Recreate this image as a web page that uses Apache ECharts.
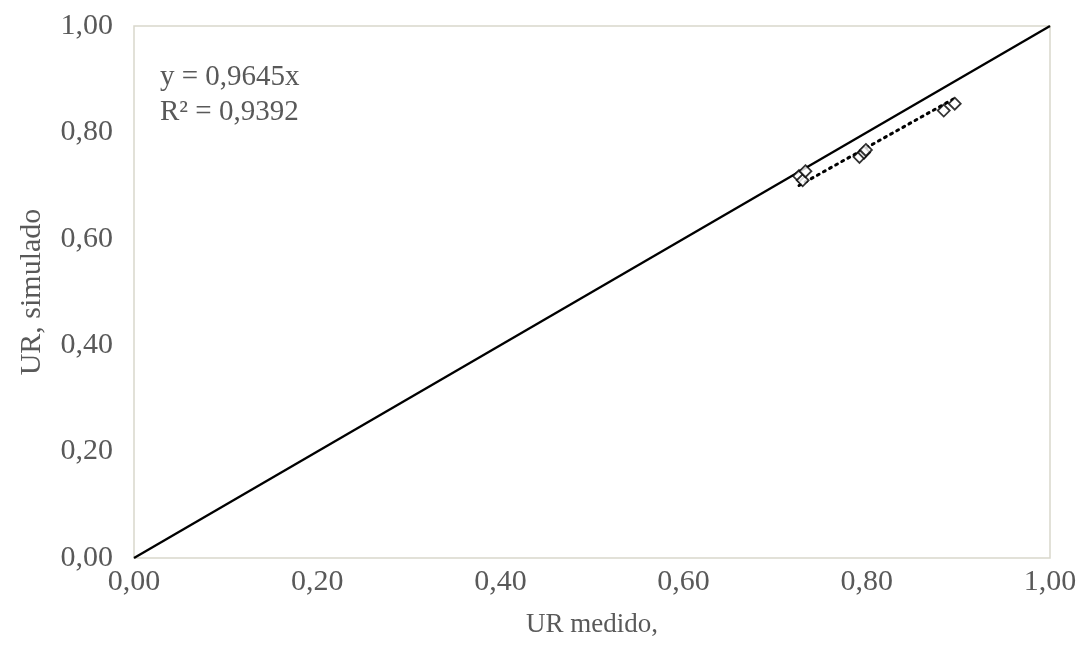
<!DOCTYPE html>
<html>
<head>
<meta charset="utf-8">
<script src="https://cdn.jsdelivr.net/npm/echarts@6/dist/echarts.min.js"></script>
<style>html,body{margin:0;padding:0;background:#fff}#c{width:1080px;height:657px}</style>
</head>
<body>
<div id="c"></div>
<script>
const medido = [0.726, 0.730, 0.733, 0.792, 0.797, 0.799, 0.884, 0.896];
const simulado = [0.718, 0.710, 0.727, 0.754, 0.762, 0.767, 0.841, 0.854];
const slope = 0.9645;
const r2Text = '0,9392';
const identity = [[0, 0], [1, 1]];
const axisTicks = [0, 0.2, 0.4, 0.6, 0.8, 1.0];

const xmin = Math.min(...medido), xmax = Math.max(...medido);
const trend = [[xmin, slope * xmin], [xmax, slope * xmax]];
const fmt = v => v.toFixed(2).replace('.', ',');
const font = '"Liberation Serif", "Times New Roman", serif';
const grey = '#595959';

const chart = echarts.init(document.getElementById('c'));
chart.setOption({
  animation: false,
  grid: { left: 134, right: 30, top: 26, bottom: 99, show: true, borderColor: '#d9d7cc', borderWidth: 1.5, backgroundColor: 'transparent' },
  xAxis: {
    type: 'value', min: 0, max: 1, interval: 0.2,
    name: 'UR medido,', nameLocation: 'middle', nameGap: 53,
    nameTextStyle: { fontFamily: font, fontSize: 27, color: grey },
    axisLine: { show: false }, axisTick: { show: false }, splitLine: { show: false },
    axisLabel: { formatter: fmt, fontFamily: font, fontSize: 30, color: grey, margin: 9 }
  },
  yAxis: {
    type: 'value', min: 0, max: 1, interval: 0.2,
    name: 'UR, simulado', nameLocation: 'middle', nameGap: 87,
    nameTextStyle: { fontFamily: font, fontSize: 30, color: grey },
    axisLine: { show: false }, axisTick: { show: false }, splitLine: { show: false },
    axisLabel: { formatter: fmt, fontFamily: font, fontSize: 30, color: grey, margin: 21 }
  },
  graphic: [{
    type: 'text', left: 160, top: 60,
    style: { text: 'y = ' + slope.toFixed(4).replace('.', ',') + 'x\nR² = ' + r2Text, font: '29px ' + font, fill: grey, lineHeight: 35 }
  }],
  series: [
    { type: 'line', data: identity, symbol: 'none', lineStyle: { color: '#000', width: 2.3 }, z: 2 },
    { type: 'line', data: trend, symbol: 'none', lineStyle: { color: '#000', width: 3, type: [2, 5], cap: 'round' }, z: 3 },
    { type: 'scatter', data: medido.map((x, i) => [x, simulado[i]]),
      symbol: 'path://M0,-1 L1,0 L0,1 L-1,0 Z', symbolSize: 12,
      itemStyle: { color: '#fff', borderColor: '#000', borderWidth: 1.8 }, z: 4 }
  ]
});
</script>
</body>
</html>
